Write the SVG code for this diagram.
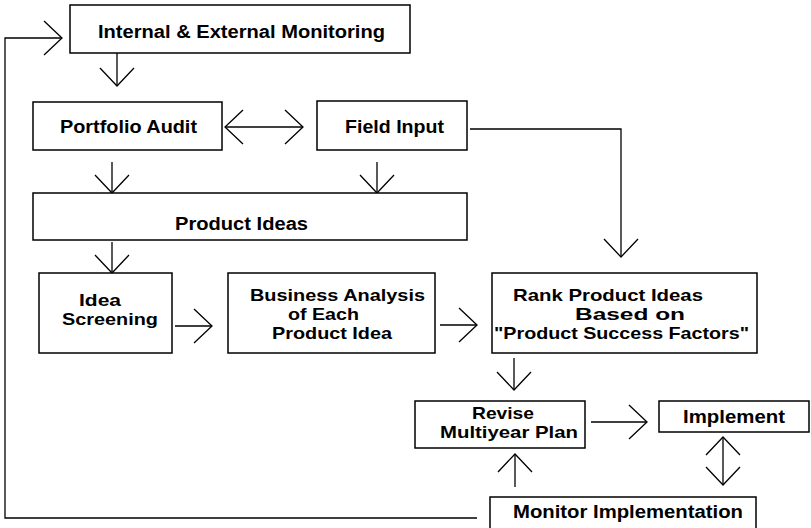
<svg xmlns="http://www.w3.org/2000/svg" width="811" height="528" viewBox="0 0 811 528">
<defs>
<style>
.box{fill:#fff;stroke:#000;stroke-width:1.5}
.t{font-family:"Liberation Sans",Arial,Helvetica,sans-serif;font-weight:bold;font-size:18px;fill:#000}
.m{font-size:17px}
.c{fill:none;stroke:#000;stroke-width:1.3}
</style>
<marker id="ah" viewBox="-20 -20 22 40" markerWidth="22" markerHeight="40" refX="0" refY="0" orient="auto-start-reverse" markerUnits="userSpaceOnUse">
<path d="M-18,-17 L0,0 L-18,17" fill="none" stroke="#000" stroke-width="1.3"/>
</marker>
</defs>
<rect width="811" height="528" fill="#fff"/>
<g id="connectors">
<polyline class="c" points="477,518 5,518 5,38 62,38" marker-end="url(#ah)"/>
<line class="c" x1="117" y1="53" x2="117" y2="86" marker-end="url(#ah)"/>
<line class="c" x1="225" y1="127" x2="303" y2="127" marker-start="url(#ah)" marker-end="url(#ah)"/>
<line class="c" x1="112" y1="162" x2="112" y2="193" marker-end="url(#ah)"/>
<line class="c" x1="377" y1="162" x2="377" y2="193" marker-end="url(#ah)"/>
<polyline class="c" points="470,129 621,129 621,257" marker-end="url(#ah)"/>
<line class="c" x1="112" y1="242" x2="112" y2="273" marker-end="url(#ah)"/>
<line class="c" x1="175" y1="326" x2="212" y2="326" marker-end="url(#ah)"/>
<line class="c" x1="440" y1="325" x2="477" y2="325" marker-end="url(#ah)"/>
<line class="c" x1="514" y1="358" x2="514" y2="390" marker-end="url(#ah)"/>
<line class="c" x1="591" y1="422" x2="647" y2="422" marker-end="url(#ah)"/>
<line class="c" x1="723" y1="437" x2="723" y2="485" marker-start="url(#ah)" marker-end="url(#ah)"/>
<line class="c" x1="515" y1="487" x2="515" y2="454" marker-end="url(#ah)"/>
</g>
<g id="internal-external-monitoring">
<rect class="box" x="70" y="5" width="340" height="48"/>
<text class="t" x="98" y="38" textLength="287" lengthAdjust="spacingAndGlyphs">Internal &amp; External Monitoring</text>
</g>
<g id="portfolio-audit">
<rect class="box" x="33" y="102" width="189" height="48"/>
<text class="t" x="60" y="133" textLength="137" lengthAdjust="spacingAndGlyphs">Portfolio Audit</text>
</g>
<g id="field-input">
<rect class="box" x="317" y="101" width="150" height="49"/>
<text class="t" x="345" y="133" textLength="99" lengthAdjust="spacingAndGlyphs">Field Input</text>
</g>
<g id="product-ideas">
<rect class="box" x="33" y="193" width="434" height="47"/>
<text class="t" x="175" y="230" textLength="133" lengthAdjust="spacingAndGlyphs">Product Ideas</text>
</g>
<g id="idea-screening">
<rect class="box" x="39" y="273" width="133" height="80"/>
<text class="t m" x="79" y="306" textLength="42" lengthAdjust="spacingAndGlyphs">Idea</text>
<text class="t m" x="62" y="325" textLength="96" lengthAdjust="spacingAndGlyphs">Screening</text>
</g>
<g id="business-analysis">
<rect class="box" x="228" y="273" width="207" height="80"/>
<text class="t m" x="250" y="301" textLength="175" lengthAdjust="spacingAndGlyphs">Business Analysis</text>
<text class="t m" x="288" y="320" textLength="71" lengthAdjust="spacingAndGlyphs">of Each</text>
<text class="t m" x="272" y="339" textLength="120" lengthAdjust="spacingAndGlyphs">Product Idea</text>
</g>
<g id="rank-product-ideas">
<rect class="box" x="492" y="273" width="265" height="80"/>
<text class="t m" x="513" y="301" textLength="190" lengthAdjust="spacingAndGlyphs">Rank Product Ideas</text>
<text class="t m" x="575" y="320" textLength="110" lengthAdjust="spacingAndGlyphs">Based on</text>
<text class="t m" x="494" y="339" textLength="255" lengthAdjust="spacingAndGlyphs">"Product Success Factors"</text>
</g>
<g id="revise-multiyear-plan">
<rect class="box" x="415" y="401" width="170" height="47"/>
<text class="t m" x="472" y="419" textLength="62" lengthAdjust="spacingAndGlyphs">Revise</text>
<text class="t m" x="440" y="438" textLength="138" lengthAdjust="spacingAndGlyphs">Multiyear Plan</text>
</g>
<g id="implement">
<rect class="box" x="659" y="401" width="150" height="31"/>
<text class="t" x="683" y="423" textLength="102" lengthAdjust="spacingAndGlyphs">Implement</text>
</g>
<g id="monitor-implementation">
<rect class="box" x="490" y="497" width="266" height="45"/>
<text class="t" x="513" y="518" textLength="230" lengthAdjust="spacingAndGlyphs">Monitor Implementation</text>
</g>
</svg>
